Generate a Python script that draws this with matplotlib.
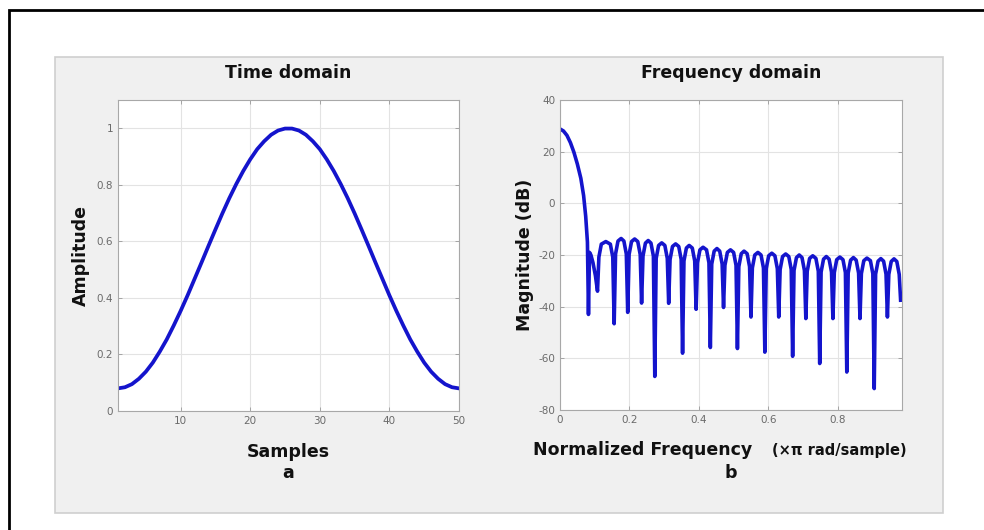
import numpy as np
import matplotlib
matplotlib.use("Agg")
from matplotlib import pyplot as plt
from matplotlib.patches import Rectangle

plt.rcParams["axes.unicode_minus"] = False

# ---------------------------------------------------------------------------
# data
# ---------------------------------------------------------------------------
samples = np.arange(1, 51)
amplitude = [0.080, 0.084, 0.095, 0.114, 0.139, 0.171, 0.210, 0.253, 0.302, 0.354,
             0.409, 0.467, 0.525, 0.584, 0.642, 0.699, 0.753, 0.803, 0.849, 0.890,
             0.926, 0.954, 0.977, 0.992, 0.999, 0.999, 0.992, 0.977, 0.954, 0.926,
             0.890, 0.849, 0.803, 0.753, 0.699, 0.642, 0.584, 0.525, 0.467, 0.409,
             0.354, 0.302, 0.253, 0.210, 0.171, 0.139, 0.114, 0.095, 0.084, 0.080]

# normalized frequency (x pi rad/sample) and magnitude (dB), one row per lobe
freq = [0.000, 0.010, 0.020, 0.030, 0.040, 0.050, 0.060, 0.068, 0.074, 0.079, 0.082,
        0.085, 0.089, 0.095, 0.102, 0.108,
        0.112, 0.119, 0.132, 0.145, 0.152, 0.156,
        0.160, 0.167, 0.176, 0.184, 0.191, 0.195,
        0.199, 0.206, 0.215, 0.224, 0.231, 0.235,
        0.239, 0.246, 0.254, 0.262, 0.269, 0.273,
        0.277, 0.284, 0.293, 0.302, 0.309, 0.313,
        0.317, 0.324, 0.333, 0.342, 0.349, 0.353,
        0.357, 0.364, 0.372, 0.381, 0.388, 0.392,
        0.396, 0.403, 0.412, 0.422, 0.429, 0.433,
        0.437, 0.444, 0.452, 0.460, 0.467, 0.471,
        0.475, 0.482, 0.491, 0.500, 0.507, 0.511,
        0.515, 0.522, 0.530, 0.539, 0.546, 0.550,
        0.554, 0.561, 0.570, 0.579, 0.586, 0.590,
        0.594, 0.601, 0.610, 0.619, 0.626, 0.630,
        0.634, 0.641, 0.650, 0.659, 0.666, 0.670,
        0.674, 0.681, 0.689, 0.697, 0.704, 0.708,
        0.712, 0.719, 0.728, 0.737, 0.744, 0.748,
        0.752, 0.759, 0.767, 0.775, 0.782, 0.786,
        0.790, 0.797, 0.806, 0.815, 0.822, 0.826,
        0.830, 0.837, 0.845, 0.853, 0.860, 0.864,
        0.868, 0.875, 0.884, 0.894, 0.901, 0.905,
        0.909, 0.916, 0.924, 0.932, 0.939, 0.943,
        0.947, 0.954, 0.962, 0.970, 0.977, 0.981]
mag_db = [28.8, 28.0, 26.3, 23.5, 19.8, 15.2, 9.7, 3.0, -5.0, -15.0, -43.0,
          -19.0, -20.0, -23.0, -28.0, -34.0,
          -20.8, -15.8, -14.8, -15.8, -20.8, -46.6,
          -19.6, -14.6, -13.6, -14.6, -19.6, -42.2,
          -19.8, -14.8, -13.8, -14.8, -19.8, -38.6,
          -20.4, -15.4, -14.4, -15.4, -20.4, -67.0,
          -21.3, -16.3, -15.3, -16.3, -21.3, -38.7,
          -21.7, -16.7, -15.7, -16.7, -21.7, -58.0,
          -22.3, -17.3, -16.3, -17.3, -22.3, -41.0,
          -23.0, -18.0, -17.0, -18.0, -23.0, -55.8,
          -23.5, -18.5, -17.5, -18.5, -23.5, -40.3,
          -24.0, -19.0, -18.0, -19.0, -24.0, -56.2,
          -24.5, -19.5, -18.5, -19.5, -24.5, -44.0,
          -25.0, -20.0, -19.0, -20.0, -25.0, -57.6,
          -25.3, -20.3, -19.3, -20.3, -25.3, -44.0,
          -25.6, -20.6, -19.6, -20.6, -25.6, -59.2,
          -26.0, -21.0, -20.0, -21.0, -26.0, -44.6,
          -26.3, -21.3, -20.3, -21.3, -26.3, -62.0,
          -26.6, -21.6, -20.6, -21.6, -26.6, -44.6,
          -26.8, -21.8, -20.8, -21.8, -26.8, -65.3,
          -27.0, -22.0, -21.0, -22.0, -27.0, -44.6,
          -27.2, -22.2, -21.2, -22.2, -27.2, -71.7,
          -27.4, -22.4, -21.4, -22.4, -27.4, -44.0,
          -27.5, -22.5, -21.5, -22.5, -27.5, -37.5]

time_xticks = [10, 20, 30, 40, 50]
time_yticks = [0, 0.2, 0.4, 0.6, 0.8, 1]
freq_xticks = [0, 0.2, 0.4, 0.6, 0.8]
freq_yticks = [-80, -60, -40, -20, 0, 20, 40]

# ---------------------------------------------------------------------------
W, H = 984, 530
fig = plt.figure(figsize=(W / 100, H / 100), dpi=100)
fig.patch.set_facecolor("white")

def px(x0, y0, x1, y1):
    # pixel box (top-left origin) -> figure fraction [l, b, w, h]
    return [x0 / W, 1 - y1 / H, (x1 - x0) / W, (y1 - y0) / H]

# black frame and grey panel behind the plots
fig.add_artist(Rectangle((9 / W, -0.1), 1.2, 1 - 10 / H + 0.1,
                         transform=fig.transFigure, fill=False,
                         ec="black", lw=2.0, clip_on=False, zorder=-2))
l, b, w, h = px(55, 57, 943, 513)
fig.add_artist(Rectangle((l, b), w, h, transform=fig.transFigure,
                         fc="#f0f0f0", ec="#cfcfcf", lw=1.2, zorder=-1))

line_col = "#1414cc"
tick_col = "#6a6a6a"
lab_font = dict(fontweight="bold", fontsize=12.5, color="#111111")

def style(ax):
    ax.set_facecolor("white")
    ax.grid(True, color="#e3e3e3", lw=0.8)
    ax.set_axisbelow(True)
    ax.tick_params(direction="in", length=3, width=0.6, colors="#9a9a9a",
                   labelcolor=tick_col, labelsize=7.5, top=True, right=True)
    for s in ax.spines.values():
        s.set_color("#a8a8a8")
        s.set_linewidth(0.8)

# Time domain
ax1 = fig.add_axes(px(118, 100, 459, 411))
ax1.plot(samples, amplitude, color=line_col, lw=2.7, solid_joinstyle="round")
ax1.set_xlim(1, 50)
ax1.set_ylim(0, 1.1)
ax1.set_xticks(time_xticks)
ax1.set_yticks(time_yticks)
ax1.set_yticklabels(["0", "0.2", "0.4", "0.6", "0.8", "1"])
style(ax1)
ax1.set_title("Time domain", pad=16, **lab_font)
ax1.set_ylabel("Amplitude", labelpad=5, **lab_font)
ax1.set_xlabel("Samples", labelpad=12, **lab_font)
fig.text((118 + 459) / 2 / W, 1 - 473 / H, "a",
         ha="center", va="center", **lab_font)

# Frequency domain
ax2 = fig.add_axes(px(560, 100, 902, 410))
ax2.plot(freq, mag_db, color=line_col, lw=2.6, solid_joinstyle="round")
ax2.set_xlim(0, 0.985)
ax2.set_ylim(-80, 40)
ax2.set_xticks(freq_xticks)
ax2.set_xticklabels(["0", "0.2", "0.4", "0.6", "0.8"])
ax2.set_yticks(freq_yticks)
style(ax2)
ax2.set_title("Frequency domain", pad=16, **lab_font)
ax2.set_ylabel("Magnitude (dB)", labelpad=3, **lab_font)
fig.text(533 / W, 1 - 450 / H, "Normalized Frequency", ha="left", va="center",
         **lab_font)
fig.text(772 / W, 1 - 451 / H, "(\u00d7\u03c0 rad/sample)", ha="left", va="center",
         fontweight="bold", fontsize=10.5, color="#111111")
fig.text(731 / W, 1 - 473 / H, "b", ha="center", va="center", **lab_font)

plt.savefig("out.png", dpi=100)
